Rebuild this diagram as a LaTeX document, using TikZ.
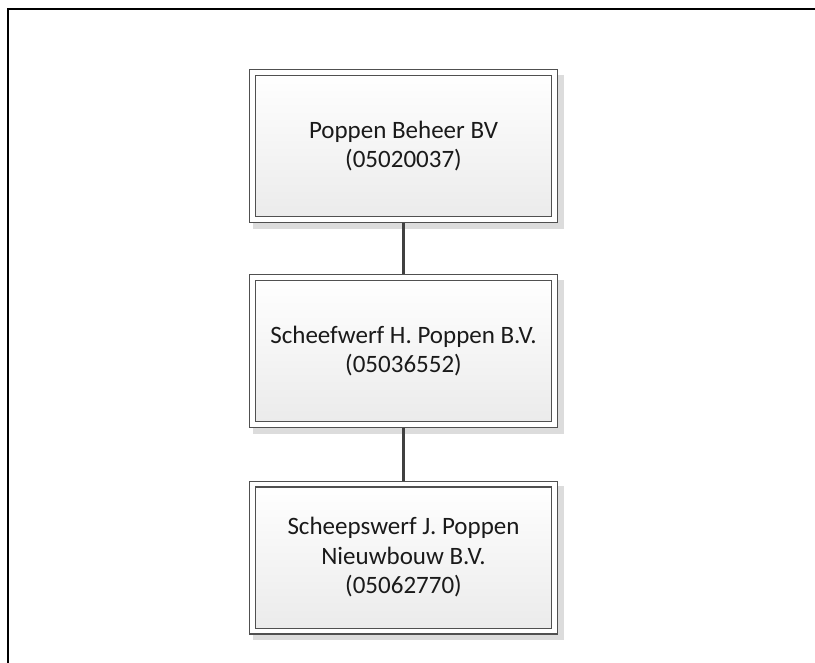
\documentclass[tikz,border=0pt]{standalone}
\usepackage{fontspec}
\setmainfont{Carlito}
\usetikzlibrary{backgrounds}
\definecolor{boxline}{HTML}{505050}
\definecolor{boxtext}{HTML}{1A1A1A}
\definecolor{shadowc}{HTML}{DCDCDC}
\definecolor{connc}{HTML}{404040}
\tikzset{
  orgbox/.style={draw=boxline, line width=1.3pt, double=white, double distance=4.4pt,
    top color=white, bottom color=black!8, minimum width=302pt, minimum height=147pt,
    inner sep=0pt, align=center, text=boxtext, font=\fontsize{25}{29.5}\selectfont},
  conn/.style={draw=connc, line width=3pt},
  frame/.style={draw=black, line width=1.1pt}
}
\begin{document}
\begin{tikzpicture}[x=1pt, y=-1pt]
\useasboundingbox (0,0) rectangle (815,663);
\coordinate (fc) at (8,9);
\coordinate (fr) at (815,9);
\coordinate (fb) at (8,663);
\draw[frame] (fr) -- (fc) -- (fb);
\node[orgbox] (a) at (403.5,146) {Poppen Beheer BV\\(05020037)};
\node[orgbox] (b) at (403.5,351) {Scheefwerf H. Poppen B.V.\\(05036552)};
\node[orgbox] (c) at (403.5,557.5) {Scheepswerf J. Poppen\\Nieuwbouw B.V.\\(05062770)};
\begin{scope}[on background layer]
  \foreach \n in {a,b,c}{
    \fill[shadowc] ([shift={(1,3)}]\n.north west) rectangle ([shift={(8.5,8.5)}]\n.south east);
  }
  \draw[conn] (a.south) -- (b.north);
  \draw[conn] (b.south) -- (c.north);
\end{scope}
\end{tikzpicture}
\end{document}
